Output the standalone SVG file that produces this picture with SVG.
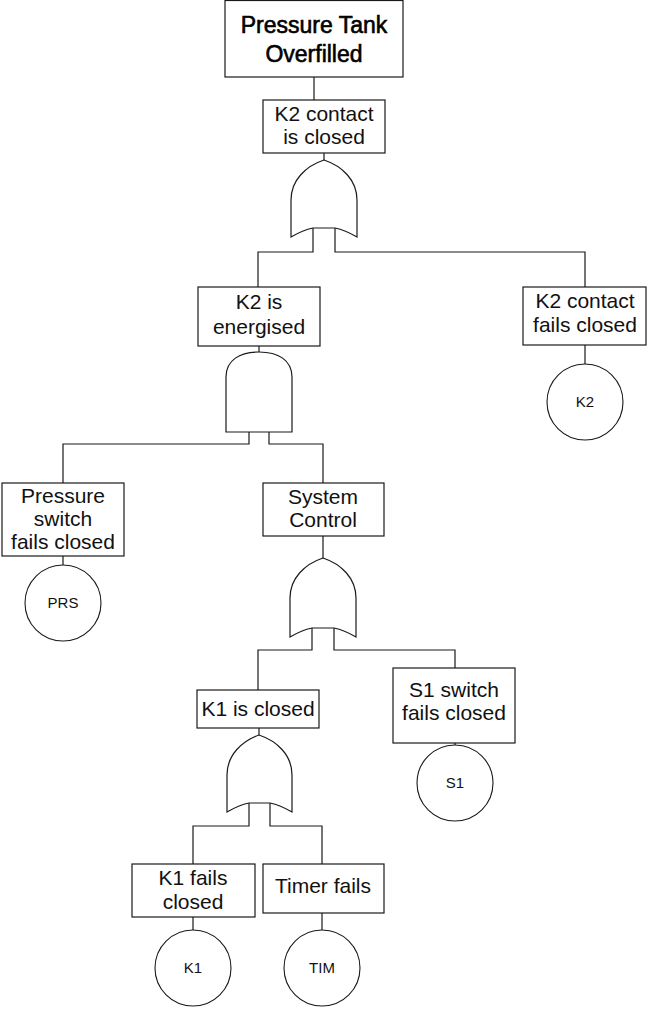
<svg xmlns="http://www.w3.org/2000/svg" width="648" height="1012" viewBox="0 0 648 1012">
  <style>
    .box { fill: #fff; stroke: #1a1a1a; stroke-width: 1.2; }
    .gate { fill: #fff; stroke: #1a1a1a; stroke-width: 1.2; }
    .evt { fill: #fff; stroke: #1a1a1a; stroke-width: 1.1; }
    .wire { fill: none; stroke: #1a1a1a; stroke-width: 1.2; }
    .lbl { font-family: "Liberation Sans", Arial, sans-serif; font-size: 21px; fill: #111; text-anchor: middle; }
    .title { font-family: "Liberation Sans", Arial, sans-serif; font-size: 23px; fill: #000; stroke: #000; stroke-width: 0.6; text-anchor: middle; }
    .code { font-family: "Liberation Sans", Arial, sans-serif; font-size: 15px; fill: #111; text-anchor: middle; }
  </style>
  <rect width="648" height="1012" fill="#fff"/>

  <!-- connectors -->
  <g id="connectors">
    <path class="wire" d="M314,77 V100"/>
    <path class="wire" d="M324,153 V160"/>
    <path class="wire" d="M313,228 V252 H258 V287"/>
    <path class="wire" d="M335,228 V252 H585 V287"/>
    <path class="wire" d="M259,346 V352"/>
    <path class="wire" d="M249,432 V444 H63 V483"/>
    <path class="wire" d="M269,432 V444 H323 V483"/>
    <path class="wire" d="M63,556 V565"/>
    <path class="wire" d="M323,536 V558"/>
    <path class="wire" d="M312,628 V650 H258 V690"/>
    <path class="wire" d="M334,628 V650 H455 V668"/>
    <path class="wire" d="M585,345 V364"/>
    <path class="wire" d="M455,743 V745"/>
    <path class="wire" d="M259,728 V735"/>
    <path class="wire" d="M249,803 V826 H193 V864"/>
    <path class="wire" d="M270,803 V826 H322 V864"/>
    <path class="wire" d="M193,917 V930"/>
    <path class="wire" d="M322,913 V930"/>
  </g>

  <!-- top event -->
  <g id="top-event">
    <rect class="box" x="225" y="0.5" width="178" height="76.5"/>
    <text class="title" x="314" y="33">Pressure Tank</text>
    <text class="title" x="314" y="62">Overfilled</text>
  </g>

  <g id="k2-contact-closed">
    <rect class="box" x="263" y="100" width="122" height="53"/>
    <text class="lbl" x="324" y="121">K2 contact</text>
    <text class="lbl" x="324" y="144">is closed</text>
  </g>

  <g id="or-gate-1">
    <path class="gate" d="M324,160 C306,166 291,180 291,200 L291,237 Q303,230 313,228 L335,228 Q345,230 357,237 L357,200 C357,180 342,166 324,160 Z"/>
  </g>

  <g id="k2-energised">
    <rect class="box" x="198" y="287" width="122" height="59"/>
    <text class="lbl" x="259" y="309">K2 is</text>
    <text class="lbl" x="259" y="334">energised</text>
  </g>

  <g id="and-gate">
    <path class="gate" d="M226,432 L226,377 C226,360 240,352 259,352 C278,352 292,360 292,377 L292,432 Z"/>
  </g>

  <g id="k2-contact-fails">
    <rect class="box" x="523" y="287" width="123" height="58"/>
    <text class="lbl" x="585" y="308">K2 contact</text>
    <text class="lbl" x="585" y="332">fails closed</text>
  </g>

  <g id="k2-basic">
    <circle class="evt" cx="585" cy="402" r="38"/>
    <text class="code" x="585" y="407">K2</text>
  </g>

  <g id="pressure-switch">
    <rect class="box" x="2" y="483" width="122" height="73"/>
    <text class="lbl" x="63" y="503">Pressure</text>
    <text class="lbl" x="63" y="526">switch</text>
    <text class="lbl" x="63" y="549">fails closed</text>
  </g>

  <g id="prs-basic">
    <circle class="evt" cx="63" cy="603" r="38"/>
    <text class="code" x="63" y="608">PRS</text>
  </g>

  <g id="system-control">
    <rect class="box" x="263" y="483" width="121" height="53"/>
    <text class="lbl" x="323" y="504">System</text>
    <text class="lbl" x="323" y="527">Control</text>
  </g>

  <g id="or-gate-2">
    <path class="gate" d="M323,558 C305,564 290,578 290,598 L290,637 Q302,630 312,628 L334,628 Q344,630 356,637 L356,598 C356,578 341,564 323,558 Z"/>
  </g>

  <g id="k1-closed">
    <rect class="box" x="197" y="690" width="122" height="38"/>
    <text class="lbl" x="258" y="716">K1 is closed</text>
  </g>

  <g id="s1-switch">
    <rect class="box" x="393" y="668" width="122" height="75"/>
    <text class="lbl" x="454" y="697">S1 switch</text>
    <text class="lbl" x="454" y="720">fails closed</text>
  </g>

  <g id="s1-basic">
    <circle class="evt" cx="455" cy="783" r="38"/>
    <text class="code" x="455" y="788">S1</text>
  </g>

  <g id="or-gate-3">
    <path class="gate" d="M259,735 C242,741 227,755 227,775 L227,812 Q239,805 249,803 L270,803 Q280,805 292,812 L292,775 C292,755 277,741 259,735 Z"/>
  </g>

  <g id="k1-fails">
    <rect class="box" x="132" y="864" width="123" height="53"/>
    <text class="lbl" x="193" y="885">K1 fails</text>
    <text class="lbl" x="193" y="909">closed</text>
  </g>

  <g id="timer-fails">
    <rect class="box" x="263" y="864" width="121" height="49"/>
    <text class="lbl" x="323" y="893">Timer fails</text>
  </g>

  <g id="k1-basic">
    <circle class="evt" cx="193" cy="968" r="38"/>
    <text class="code" x="193" y="973">K1</text>
  </g>

  <g id="tim-basic">
    <circle class="evt" cx="322" cy="968" r="38"/>
    <text class="code" x="322" y="973">TIM</text>
  </g>
</svg>
